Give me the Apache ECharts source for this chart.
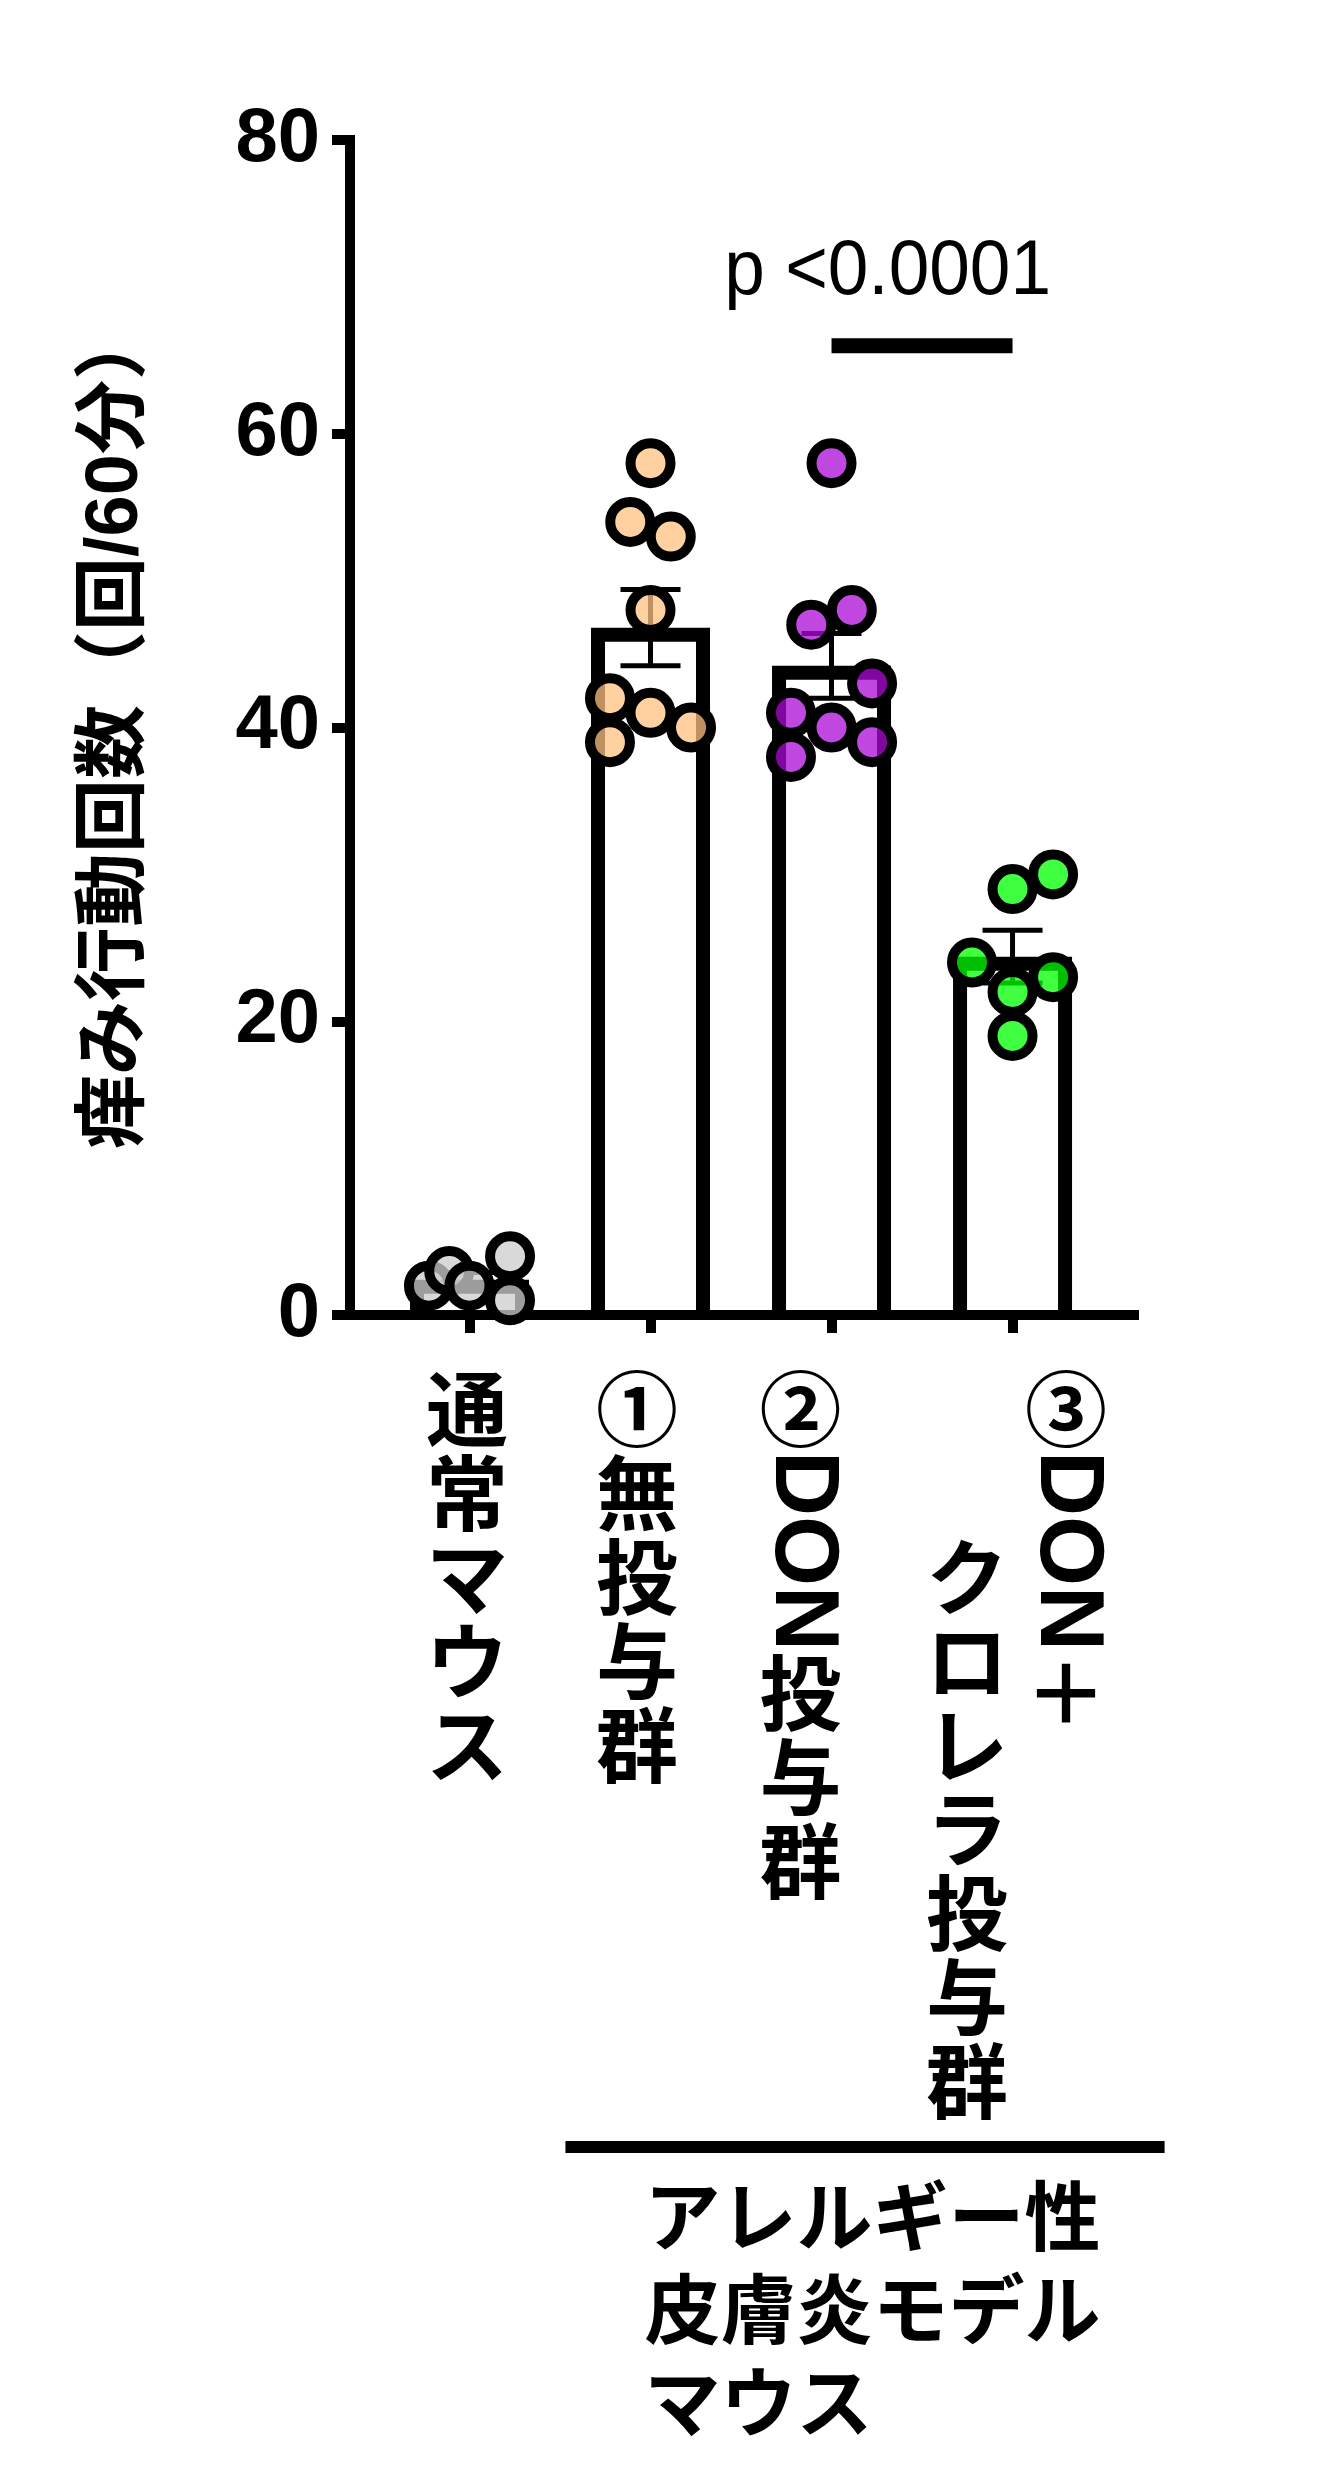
<!DOCTYPE html>
<html>
<head>
<meta charset="utf-8">
<script src="https://cdn.jsdelivr.net/npm/echarts@6/dist/echarts.min.js"></script>
<style>
html, body { margin: 0; padding: 0; background: #ffffff; }
#chart { width: 1333px; height: 2488px; }
</style>
</head>
<body>
<div id="chart"></div>
<script>
// ================= DATA =================
const categories = ['通常マウス', '①無投与群', '②DON投与群', '③DON＋クロレラ投与群'];
// tick-label text, split into vertical columns (right column first)
const categoryColumns = [['通常マウス'], ['①無投与群'], ['②DON投与群'], ['③DON＋', 'クロレラ投与群']];

// individual animals (scratching bouts / 60 min)
const normalMouse  = [2, 3, 2, 4, 1];
const noTreatment  = [58, 54, 53, 48, 42, 41, 40, 39];
const donTreatment = [58, 47, 48, 43, 41, 40, 39, 38];
const donChlorella = [29, 30, 24, 23, 22, 19];

// bar heights (mean) and error bars (SEM)
const barMeans = [2.4, 46.8, 44.2, 24.4];
const barSem   = [0.5, 2.6, 2.2, 1.8];

// horizontal scatter slots of each dot
const normalJitter  = [-2, -1, 0, 2, 2];
const noTreatJitter = [0, -1, 1, 0, -2, 0, 2, -2];
const donJitter     = [0, -1, 1, 2, -2, 0, 2, -2];
const donChlJitter  = [0, 2, -2, 2, 0, 0];

const yTicks = [0, 20, 40, 60, 80];
const yAxisTitle = '痒み行動回数（回/60分）';

const pValueText = 'p <0.0001';
const comparedGroups = [2, 3];
const comparisonLevel = 66;
const pValueAnchor = [2.31, 70.97];

const groupBracketText = 'アレルギー性\n皮膚炎モデル\nマウス';
const groupBracketRange = [0.53, 3.84];
const groupBracketTextAt = 1;

// ================= LAYOUT / STYLE =================
const LAYOUT = {
  gridLeft: 337, gridRight: 199, gridTop: 140, gridBottom: 1173,
  tickGridLeft: 379, tickGridRight: 230,
  xMin: -0.732, xMax: 3.671,
  yAxisOffset: -13,
  jitterStep: 0.112,
  barOuterWidth: 119, barLineWidth: 14,
  errCapWidth: 60, errLineWidth: 5,
  dotSize: 40, dotBorder: 10,
  labelTop: 52, cjkSize: 82, cjkAdvance: 84, latinSize: 90,
  columnShift: [[-2.5], [-13.5], [-31], [53.5, -45.5]],
  columnStartChars: [[0], [0], [0], [0, 2]],
  bracketY: 832, bracketWidth: 12,
  bracketTextY: 855, bracketTextDx: -6, bracketFont: 76, bracketLine: 93,
  pFont: 73, pScaleY: 1.06
};
const COLORS = {
  normal: 'rgba(205,205,205,0.76)',
  noTreat: 'rgba(255,193,128,0.75)',
  don: 'rgba(171,11,214,0.75)',
  donChl: 'rgba(0,255,0,0.75)'
};
const CJK_FONT = '"Noto Sans CJK JP", "Noto Sans CJK SC", sans-serif';
const LATIN_FONT = '"Liberation Sans", Arial, sans-serif';

// ================= CHART =================
const chart = echarts.init(document.getElementById('chart'), null, { renderer: 'canvas' });
const measureCtx = document.createElement('canvas').getContext('2d');

function dots(values, slots, groupIndex) {
  return values.map((v, k) => [groupIndex + slots[k] * LAYOUT.jitterStep, v]);
}

function scatterSeries(values, slots, g, color) {
  return {
    type: 'scatter', xAxisIndex: 0, yAxisIndex: 0, z: 4,
    data: dots(values, slots, g),
    symbol: 'circle', symbolSize: LAYOUT.dotSize,
    itemStyle: { color: color, borderColor: '#000', borderWidth: LAYOUT.dotBorder, opacity: 1 },
    emphasis: { disabled: true }, silent: true
  };
}

function renderBar(params, api) {
  const i = api.value(0), v = api.value(1);
  const base = api.coord([i, 0]);
  const top = api.coord([i, v]);
  const half = LAYOUT.barOuterWidth / 2 - LAYOUT.barLineWidth / 2;
  const yTop = top[1] + LAYOUT.barLineWidth / 2;
  return {
    type: 'polyline',
    shape: { points: [[base[0] - half, base[1]], [base[0] - half, yTop], [base[0] + half, yTop], [base[0] + half, base[1]]] },
    style: { stroke: '#000', lineWidth: LAYOUT.barLineWidth, fill: 'none', lineJoin: 'miter' }
  };
}

function renderError(params, api) {
  const i = api.value(0), m = api.value(1), s = api.value(2);
  const hi = api.coord([i, m + s]);
  const lo = api.coord([i, m - s]);
  const hw = LAYOUT.errCapWidth / 2;
  const st = { stroke: '#000', lineWidth: LAYOUT.errLineWidth };
  return {
    type: 'group',
    children: [
      { type: 'line', shape: { x1: hi[0], y1: hi[1], x2: lo[0], y2: lo[1] }, style: st },
      { type: 'line', shape: { x1: hi[0] - hw, y1: hi[1], x2: hi[0] + hw, y2: hi[1] }, style: st },
      { type: 'line', shape: { x1: lo[0] - hw, y1: lo[1], x2: lo[0] + hw, y2: lo[1] }, style: st }
    ]
  };
}

function buildColumn(text, cx, yStart, children) {
  let cursor = yStart;
  const re = /[A-Za-z]+|./gu;
  let m;
  while ((m = re.exec(text)) !== null) {
    const s = m[0];
    if (/^[A-Za-z]+$/.test(s)) {
      measureCtx.font = 'bold ' + LAYOUT.latinSize + 'px ' + LATIN_FONT;
      const w = measureCtx.measureText(s).width;
      children.push({
        type: 'text', x: cx, y: cursor + w / 2, rotation: -Math.PI / 2,
        style: { text: s, fontSize: LAYOUT.latinSize, fontFamily: LATIN_FONT, fontWeight: 'bold',
                 fill: '#000', align: 'center', verticalAlign: 'middle' }
      });
      cursor += w;
    } else {
      children.push({
        type: 'text', x: cx, y: cursor + LAYOUT.cjkAdvance / 2,
        style: { text: s, fontSize: LAYOUT.cjkSize, fontFamily: CJK_FONT, fontWeight: 'bold',
                 fill: '#000', align: 'center', verticalAlign: 'middle' }
      });
      cursor += LAYOUT.cjkAdvance;
    }
  }
}

function renderLabels(params, api) {
  const g = api.value(0);
  const base = api.coord([g, 0]);
  const children = [];
  categoryColumns[params.dataIndex].forEach((col, c) => {
    const cx = base[0] + LAYOUT.columnShift[params.dataIndex][c];
    const y0 = base[1] + LAYOUT.labelTop + LAYOUT.columnStartChars[params.dataIndex][c] * LAYOUT.cjkAdvance;
    buildColumn(col, cx, y0, children);
  });
  return { type: 'group', children: children };
}

function renderComparison(params, api) {
  const a = api.coord([comparedGroups[0], comparisonLevel]);
  const b = api.coord([comparedGroups[1], comparisonLevel]);
  const t = api.coord(pValueAnchor);
  return {
    type: 'group',
    children: [
      { type: 'line', shape: { x1: a[0], y1: a[1], x2: b[0], y2: b[1] }, style: { stroke: '#000', lineWidth: 15 } },
      { type: 'text', x: t[0], y: t[1], scaleY: LAYOUT.pScaleY,
        style: { text: pValueText, fontSize: LAYOUT.pFont, fontFamily: LATIN_FONT, fill: '#000', align: 'center', verticalAlign: 'middle' } }
    ]
  };
}

function renderBracket(params, api) {
  const a = api.coord([groupBracketRange[0], 0]);
  const b = api.coord([groupBracketRange[1], 0]);
  const t = api.coord([groupBracketTextAt, 0]);
  return {
    type: 'group',
    children: [
      { type: 'line', shape: { x1: a[0], y1: a[1] + LAYOUT.bracketY, x2: b[0], y2: b[1] + LAYOUT.bracketY },
        style: { stroke: '#000', lineWidth: LAYOUT.bracketWidth } },
      { type: 'text', x: t[0] + LAYOUT.bracketTextDx, y: t[1] + LAYOUT.bracketTextY,
        style: { text: groupBracketText, fontSize: LAYOUT.bracketFont, lineHeight: LAYOUT.bracketLine,
                 fontFamily: CJK_FONT, fontWeight: 'bold', fill: '#000', align: 'left', verticalAlign: 'top' } }
    ]
  };
}

const option = {
  backgroundColor: '#ffffff',
  animation: false,
  grid: [
    { left: LAYOUT.gridLeft, right: LAYOUT.gridRight, top: LAYOUT.gridTop, bottom: LAYOUT.gridBottom },
    { left: LAYOUT.tickGridLeft, right: LAYOUT.tickGridRight, top: LAYOUT.gridTop, bottom: LAYOUT.gridBottom }
  ],
  xAxis: [
    { gridIndex: 0, type: 'value', min: LAYOUT.xMin, max: LAYOUT.xMax,
      axisLine: { show: true, onZero: false, lineStyle: { color: '#000', width: 10, cap: 'square' } },
      axisTick: { show: false }, axisLabel: { show: false }, splitLine: { show: false } },
    { gridIndex: 1, type: 'category', data: categories,
      axisLine: { show: false },
      axisTick: { show: true, alignWithLabel: true, length: 18, lineStyle: { color: '#000', width: 10 } },
      axisLabel: { show: false }, splitLine: { show: false } }
  ],
  yAxis: [
    { gridIndex: 0, type: 'value', min: yTicks[0], max: yTicks[yTicks.length - 1], interval: yTicks[1] - yTicks[0],
      offset: LAYOUT.yAxisOffset,
      axisLine: { show: true, onZero: false, lineStyle: { color: '#000', width: 10, cap: 'square' } },
      axisTick: { show: true, length: 18, lineStyle: { color: '#000', width: 10 } },
      axisLabel: { fontSize: 76, fontWeight: 'bold', fontFamily: LATIN_FONT, color: '#000', margin: 30 },
      splitLine: { show: false },
      name: yAxisTitle, nameLocation: 'middle', nameRotate: 90, nameGap: 196,
      nameTextStyle: { fontSize: 74, fontWeight: 'bold', fontFamily: LATIN_FONT + ', ' + CJK_FONT, color: '#000' } },
    { gridIndex: 1, type: 'value', min: yTicks[0], max: yTicks[yTicks.length - 1], show: false }
  ],
  series: [
    { type: 'custom', xAxisIndex: 0, yAxisIndex: 0, z: 2, silent: true,
      data: barMeans.map((m, i) => [i, m]), renderItem: renderBar },
    { type: 'custom', xAxisIndex: 0, yAxisIndex: 0, z: 3, silent: true,
      data: barMeans.map((m, i) => [i, m, barSem[i]]), renderItem: renderError },
    scatterSeries(normalMouse, normalJitter, 0, COLORS.normal),
    scatterSeries(noTreatment, noTreatJitter, 1, COLORS.noTreat),
    scatterSeries(donTreatment, donJitter, 2, COLORS.don),
    scatterSeries(donChlorella, donChlJitter, 3, COLORS.donChl),
    { type: 'custom', xAxisIndex: 0, yAxisIndex: 0, z: 5, silent: true, clip: false,
      data: categories.map((c, i) => [i, 0]), renderItem: renderLabels },
    { type: 'custom', xAxisIndex: 0, yAxisIndex: 0, z: 5, silent: true, clip: false,
      data: [[comparedGroups[0], comparisonLevel]], renderItem: renderComparison },
    { type: 'custom', xAxisIndex: 0, yAxisIndex: 0, z: 5, silent: true, clip: false,
      data: [[groupBracketTextAt, 0]], renderItem: renderBracket }
  ]
};
chart.setOption(option);
</script>
</body>
</html>
